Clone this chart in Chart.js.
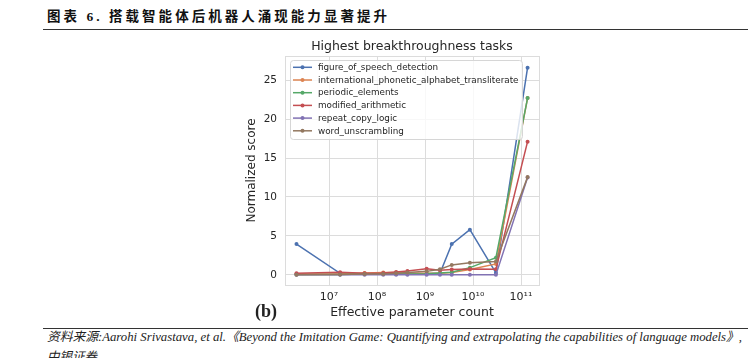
<!DOCTYPE html>
<html>
<head>
<meta charset="utf-8">
<script src="https://cdn.jsdelivr.net/npm/chart.js@4.4.0/dist/chart.umd.min.js"></script>
<style>
  html, body { margin: 0; padding: 0; background: #fff; width: 748px; height: 358px; overflow: hidden; position: relative; }
  #hdr { position: absolute; left: 47px; top: 10px; font: bold 13.5px "Liberation Serif", "Noto Sans CJK SC"; color: #111; white-space: nowrap; line-height: 1; }
  .rule { position: absolute; left: 43px; right: 0; height: 1px; background: #333; }
  #wrap { position: absolute; left: 240px; top: 30px; width: 310px; height: 295px; }
  #tag { position: absolute; left: 255px; top: 302px; font: bold 18px "Liberation Serif"; color: #222; line-height: 1; }
  .src { position: absolute; left: 47px; font: italic 12.5px "Liberation Serif", "Noto Sans CJK SC"; color: #222; white-space: nowrap; transform-origin: 0 0; line-height: 1; }
</style>
</head>
<body>
<div id="hdr">图表 6. 搭载智能体后机器人涌现能力显著提升</div>
<div class="rule" style="top:29px"></div>
<div id="wrap"><canvas id="c" width="310" height="295"></canvas></div>
<div id="tag">(b)</div>
<div class="rule" style="top:328px"></div>
<div class="src" id="src1" style="top:331px">资料来源:Aarohi Srivastava, et al.《Beyond the Imitation Game: Quantifying and extrapolating the capabilities of language models》,</div>
<div class="src" style="top:351px">中银证券</div>
<script>
// effective parameter counts (x)
const params = [2.1e6, 1.7e7, 5.5e7, 1.35e8, 2.5e8, 4.3e8, 1.08e9, 2.05e9, 3.6e9, 8.6e9, 3.0e10, 1.37e11];

const figureOfSpeech   = [3.95, 0.2, 0.1, 0.1, 0.1, 0.1, 0.15, 0.2, 3.95, 5.8, 0.25, 26.6];
const ipaTranslit      = [0.1, 0.15, 0.25, 0.3, 0.3, 0.25, 0.2, 0.2, 0.3, 0.7, 1.4, 22.7];
const periodicElements = [0.05, 0.05, 0.1, 0.1, 0.1, 0.1, 0.15, 0.25, 0.35, 0.93, 2.2, 22.7];
const modifiedArith    = [0.2, 0.34, 0.2, 0.25, 0.38, 0.5, 0.78, 0.6, 0.68, 0.75, 0.72, 17.1];
const repeatCopyLogic  = [0, 0, 0, 0, 0, 0, 0, 0, 0, 0, 0, 12.5];
const wordUnscrambling = [0, 0.05, 0.1, 0.1, 0.2, 0.3, 0.45, 0.72, 1.28, 1.57, 1.72, 12.55];

const seriesNames = ['figure_of_speech_detection', 'international_phonetic_alphabet_transliterate',
  'periodic_elements', 'modified_arithmetic', 'repeat_copy_logic', 'word_unscrambling'];
const seriesValues = [figureOfSpeech, ipaTranslit, periodicElements, modifiedArith, repeatCopyLogic, wordUnscrambling];
const colors = ['#4c72b0', '#dd8452', '#55a868', '#c44e52', '#8172b3', '#937860'];

const xTicks = [1e7, 1e8, 1e9, 1e10, 1e11];
const xTickLabels = ['10⁷', '10⁸', '10⁹', '10¹⁰', '10¹¹'];
const yTicks = [0, 5, 10, 15, 20, 25];

const ink = '#262626';
const gridColor = '#dcdcdc';

const frame = {
  id: 'frame',
  beforeDatasetsDraw(chart) {
    const { ctx, chartArea: a } = chart;
    ctx.save();
    ctx.strokeStyle = gridColor;
    ctx.lineWidth = 1;
    ctx.strokeRect(Math.round(a.left) + 0.5, Math.round(a.top) + 0.5, Math.round(a.right - a.left), Math.round(a.bottom - a.top));
    ctx.restore();
  }
};

const legendBox = {
  id: 'legendBox',
  afterDatasetsDraw(chart) {
    const { ctx, chartArea: a } = chart;
    const x0 = Math.round(a.left) + 5, y0 = Math.round(a.top) + 4, w = 232, h = 79;
    ctx.save();
    ctx.beginPath();
    ctx.roundRect(x0 + 0.5, y0 + 0.5, w, h, 3);
    ctx.fillStyle = 'rgba(255,255,255,0.8)';
    ctx.fill();
    ctx.strokeStyle = '#d6d6d6';
    ctx.lineWidth = 1;
    ctx.stroke();
    ctx.font = '8.8px "DejaVu Sans"';
    ctx.textBaseline = 'middle';
    chart.data.datasets.forEach((ds, i) => {
      const y = y0 + 7.3 + i * 12.7;
      ctx.strokeStyle = ds.borderColor;
      ctx.lineWidth = 1.5;
      ctx.beginPath(); ctx.moveTo(x0 + 3, y); ctx.lineTo(x0 + 22, y); ctx.stroke();
      ctx.fillStyle = ds.borderColor;
      ctx.beginPath(); ctx.arc(x0 + 12.5, y, 2, 0, Math.PI * 2); ctx.fill();
      ctx.fillStyle = ink;
      ctx.fillText(ds.label, x0 + 28, y + 0.5);
    });
    ctx.restore();
  }
};

const datasets = seriesNames.map((name, i) => ({
  label: name,
  data: params.map((p, j) => ({ x: p, y: seriesValues[i][j] })),
  borderColor: colors[i],
  backgroundColor: colors[i],
  pointBackgroundColor: colors[i],
  borderWidth: 1.5,
  pointRadius: 2,
  pointBorderWidth: 0,
  pointHoverRadius: 2,
  tension: 0,
  order: seriesNames.length - i
}));

new Chart(document.getElementById('c'), {
  type: 'line',
  data: { datasets },
  plugins: [frame, legendBox],
  options: {
    responsive: false,
    animation: false,
    layout: { padding: { top: 0, right: 11, left: 0, bottom: 0 } },
    plugins: {
      legend: { display: false },
      tooltip: { enabled: false },
      title: {
        display: true,
        text: 'Highest breakthroughness tasks',
        fullSize: false,
        color: ink,
        font: { family: 'DejaVu Sans', size: 12.5, weight: 'normal' },
        padding: { top: 9, bottom: 2 }
      }
    },
    scales: {
      x: {
        type: 'logarithmic',
        min: 1.21e6,
        max: 2.37e11,
        afterBuildTicks: (s) => { s.ticks = xTicks.map(v => ({ value: v })); },
        afterFit: (s) => { s.height = 40; },
        grid: { color: gridColor, drawTicks: false },
        border: { display: false },
        ticks: {
          color: ink,
          padding: 6,
          maxRotation: 0,
          autoSkip: false,
          font: { family: 'DejaVu Sans', size: 11 },
          callback: (v, i) => xTickLabels[i]
        },
        title: {
          display: true,
          text: 'Effective parameter count',
          color: ink,
          font: { family: 'DejaVu Sans', size: 12.5 },
          padding: { top: 0, bottom: 4.5 }
        }
      },
      y: {
        min: -1.3,
        max: 28.1,
        afterBuildTicks: (s) => { s.ticks = yTicks.map(v => ({ value: v })); },
        afterFit: (s) => { s.width = 45; },
        grid: { color: gridColor, drawTicks: false },
        border: { display: false },
        ticks: {
          color: ink,
          padding: 8,
          font: { family: 'DejaVu Sans', size: 10.5 }
        },
        title: {
          display: true,
          text: 'Normalized score',
          color: ink,
          font: { family: 'DejaVu Sans', size: 12 },
          padding: { top: 4.8, bottom: 0 }
        }
      }
    }
  }
});

// header: spread characters to the width they take in the reference
const hdr = document.getElementById('hdr');
const hw = hdr.getBoundingClientRect().width;
const nChars = [...hdr.textContent].length;
hdr.style.letterSpacing = ((343 - hw) / nChars) + 'px';

// source line: stretch to the reference width
const src1 = document.getElementById('src1');
const sw = src1.getBoundingClientRect().width;
if (sw > 0) src1.style.transform = 'scaleX(' + (695 / sw) + ')';
</script>
</body>
</html>
